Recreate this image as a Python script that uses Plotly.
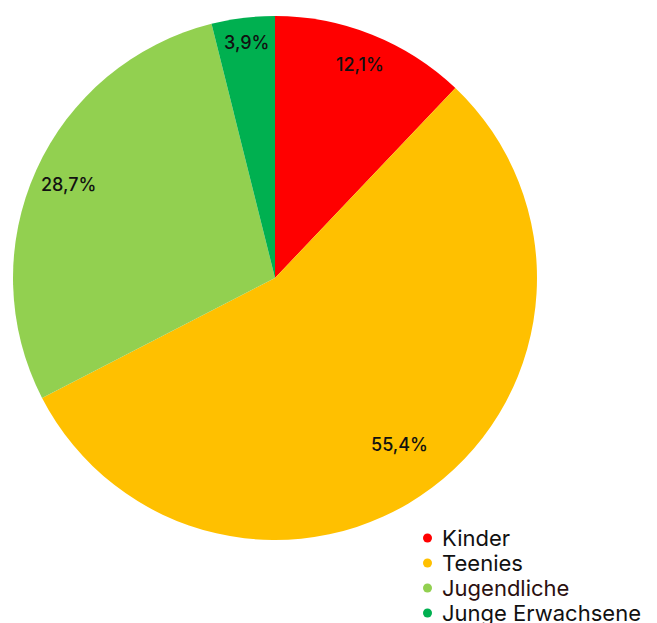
import math
import plotly.graph_objects as go

categories = ["Kinder", "Teenies", "Jugendliche", "Junge Erwachsene"]
values = [12.1, 55.4, 28.7, 3.9]
colors = ["#FF0000", "#FFC000", "#92D050", "#00B050"]
legend_text_colors = ["#111111", "#111111", "#2B1010", "#111111"]
# radial placement of each slice label (fraction of radius)
label_radius = [0.878, 0.795, 0.865, 0.905]

fig = go.Figure()
fig.add_trace(go.Pie(
    labels=categories,
    values=values,
    sort=False,
    direction="clockwise",
    rotation=0,
    marker=dict(colors=colors, line=dict(width=0)),
    textinfo="none",
    showlegend=False,
    hoverinfo="label+value",
    domain=dict(x=[0, 1], y=[0, 1]),
))

# slice labels placed at the slice mid-angle
total = sum(values)
cum = 0.0
for v, f in zip(values, label_radius):
    mid = (cum + v / 2) / total * 2 * math.pi
    cum += v
    x = 0.5 + 0.5 * f * math.sin(mid)
    y = 0.5 + 0.5 * f * math.cos(mid)
    fig.add_annotation(
        x=x, y=y, xref="paper", yref="paper",
        text=f"{v:.1f}%".replace(".", ","),
        showarrow=False, xanchor="center", yanchor="middle",
        font=dict(family="Inter", size=18, color="#111111", weight=500),
    )

# legend (dots + text)
plot_top, plot_h = 16, 524
for i, (cat, col, tcol) in enumerate(zip(categories, colors, legend_text_colors)):
    cy = 538 + 25 * i
    ypaper = (plot_top + plot_h - cy) / plot_h
    fig.add_shape(
        type="circle", xref="paper", yref="paper",
        xsizemode="pixel", ysizemode="pixel",
        xanchor=(427.5 - 13) / plot_h, yanchor=ypaper,
        x0=-4.5, x1=4.5, y0=-4.5, y1=4.5,
        fillcolor=col, line=dict(width=0),
    )
    fig.add_annotation(
        x=(440 - 13) / plot_h, y=ypaper,
        xref="paper", yref="paper",
        text=cat, showarrow=False, xanchor="left", yanchor="middle",
        font=dict(family="Inter", size=22, color=tcol),
    )

fig.update_layout(
    width=657, height=623,
    margin=dict(l=13, r=120, t=16, b=83, autoexpand=False),
    paper_bgcolor="white", plot_bgcolor="white",
    separators=",.",
    showlegend=False,
)

fig.write_html("out.html")
